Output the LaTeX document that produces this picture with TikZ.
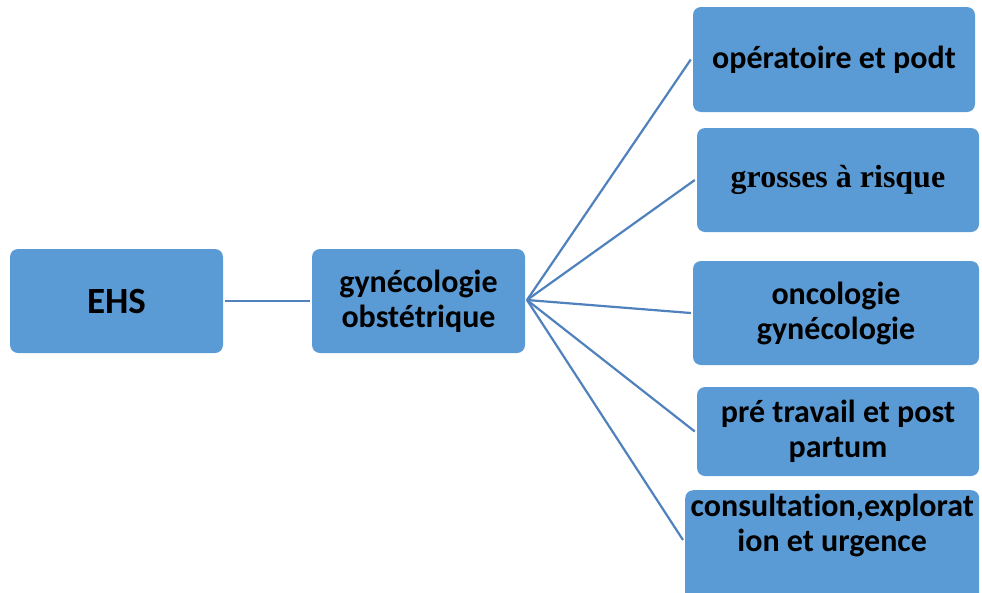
\documentclass[tikz,border=0pt]{standalone}
\usepackage{fontspec}
\setmainfont{Carlito}[Ligatures=CommonOff]
\newfontfamily\serifb{Liberation Serif}
\definecolor{boxblue}{HTML}{5B9BD5}
\definecolor{linkblue}{HTML}{4F81BD}
\begin{document}
\begin{tikzpicture}[x=1pt,y=-1pt,
  box/.style={fill=boxblue, draw=none, rounded corners=8pt, inner sep=0pt},
  lbl/.style={font=\fontsize{32}{35}\selectfont\bfseries, align=center, text=black},
  link/.style={draw=linkblue, line width=2.2pt}]
\useasboundingbox (0,0) rectangle (982,592);
% boxes
\node[box, minimum width=213, minimum height=104, lbl, font=\fontsize{37}{40}\selectfont\bfseries] (ehs) at (116.5,301) {EHS};
\node[box, minimum width=213, minimum height=104, lbl] (gyn) at (418.5,301) {gynécologie\\obstétrique};
\node[box, minimum width=282, minimum height=105, lbl] (b1) at (834,59.5) {opératoire et podt};
\node[box, minimum width=282, minimum height=104, lbl, font=\fontsize{32}{35}\selectfont\serifb\bfseries] (b2) at (838,180) {grosses à risque};
\node[box, minimum width=286, minimum height=104, lbl] (b3) at (836,313) {oncologie\\gynécologie};
\node[box, minimum width=282, minimum height=89, lbl] (b4) at (838,431.5) {pré travail et post\\partum};
\node[box, minimum width=294, minimum height=115, anchor=north west] (b5) at (685,490) {};
\node[lbl, anchor=north] (t5) at (b5.north) [yshift=-1pt] {consultation,explorat\\ion et urgence};
% connectors
\coordinate (hub) at (527,300);
\draw[link] ([xshift=2pt]ehs.east) -- ([xshift=-2pt]gyn.west);
\draw[link] (hub) -- ([xshift=-2pt]b1.west);
\draw[link] (hub) -- ([xshift=-2pt]b2.west);
\draw[link] (hub) -- ([xshift=-2pt]b3.west);
\draw[link] (hub) -- ([xshift=-2pt]b4.west);
\draw[link] (hub) -- (683,540);
\end{tikzpicture}
\end{document}
